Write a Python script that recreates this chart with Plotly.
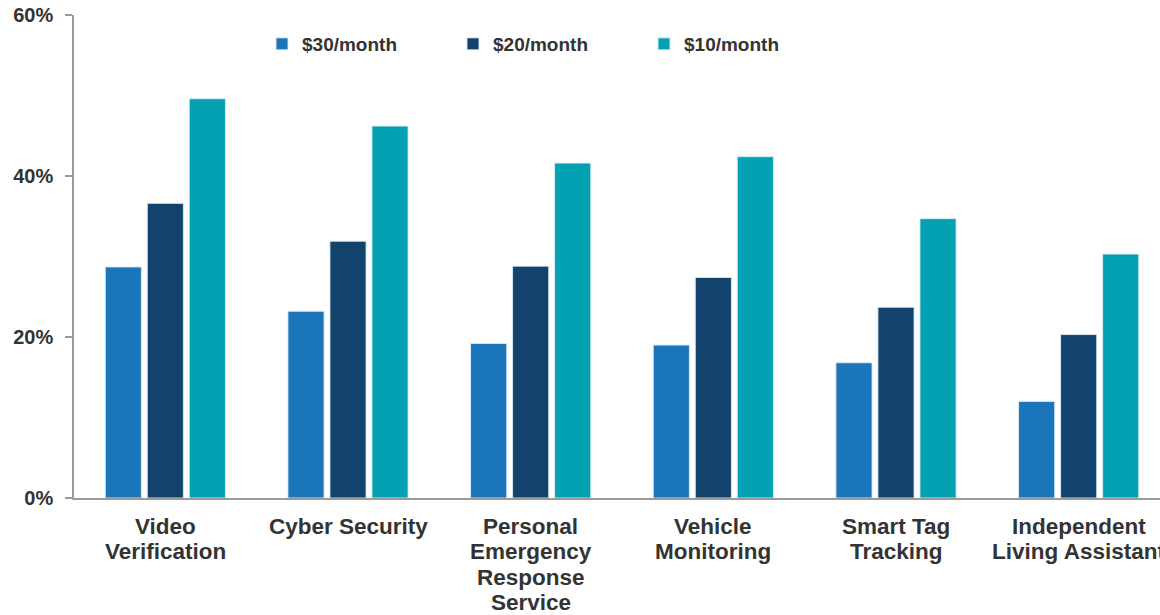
import plotly.graph_objects as go

categories = ["Video<br>Verification", "Cyber Security", "Personal<br>Emergency<br>Response<br>Service",
              "Vehicle<br>Monitoring", "Smart Tag<br>Tracking", "Independent<br>Living Assistant"]
series_names = ["$30/month", "$20/month", "$10/month"]
vals_30 = [28.7, 23.2, 19.2, 19.0, 16.8, 12.0]
vals_20 = [36.6, 31.9, 28.8, 27.4, 23.7, 20.3]
vals_10 = [49.6, 46.2, 41.6, 42.4, 34.7, 30.3]
colors = ["#1B75BB", "#11436C", "#03A1B1"]

W, H = 1170, 615
ML, MR, MT, MB = 74, 0, 15, 117
PW, PH = W - ML - MR, H - MT - MB
font_fam = "Liberation Sans, Arial, sans-serif"
txt_col = "#333333"

fig = go.Figure()
for name, vals, col in zip(series_names, [vals_30, vals_20, vals_10], colors):
    fig.add_trace(go.Bar(
        x=categories, y=vals, name=name,
        marker=dict(color=col, line=dict(color="rgba(220,235,245,0.9)", width=1)),
    ))

# category labels as per-line annotations (tighter line spacing than tick labels)
for cat in categories:
    for i, line in enumerate(cat.split("<br>")):
        fig.add_annotation(
            x=cat, xref="x", y=0, yref="paper", yanchor="middle", xanchor="center",
            yshift=-(28 + i * 25.5), text=line, showarrow=False,
            font=dict(family=font_fam, size=22.5, color=txt_col, weight="bold"),
        )

fig.update_layout(
    width=W, height=H,
    margin=dict(l=ML, r=MR, t=MT, b=MB, autoexpand=False),
    plot_bgcolor="white", paper_bgcolor="white",
    barmode="group", bargap=0.31, bargroupgap=0.14,
    font=dict(family=font_fam, color=txt_col, size=20, weight="bold"),
    showlegend=True,
    legend=dict(
        orientation="h", xref="paper", yref="paper",
        x=(262 - ML) / PW, xanchor="left", y=(H - MB - 44) / PH, yanchor="middle",
        entrywidth=146, entrywidthmode="pixels",
        font=dict(family=font_fam, size=19, color=txt_col, weight="bold"),
        bgcolor="rgba(0,0,0,0)", traceorder="normal",
    ),
    xaxis=dict(
        showline=True, linecolor="#9a9a9a", linewidth=1.5,
        ticks="", showgrid=False, showticklabels=False,
    ),
    yaxis=dict(
        range=[0, 60], dtick=20, ticksuffix="%",
        showline=True, linecolor="#9a9a9a", linewidth=1.5,
        ticks="outside", ticklen=7, tickcolor="#9a9a9a", tickwidth=1.5,
        showgrid=False, zeroline=False,
        tickfont=dict(family=font_fam, size=20, color=txt_col, weight="bold"),
        ticklabelstandoff=8,
    ),
)

fig.write_html("out.html", post_script="document.documentElement.style.overflow='hidden';document.body.style.overflow='hidden';document.body.style.margin='0';")
